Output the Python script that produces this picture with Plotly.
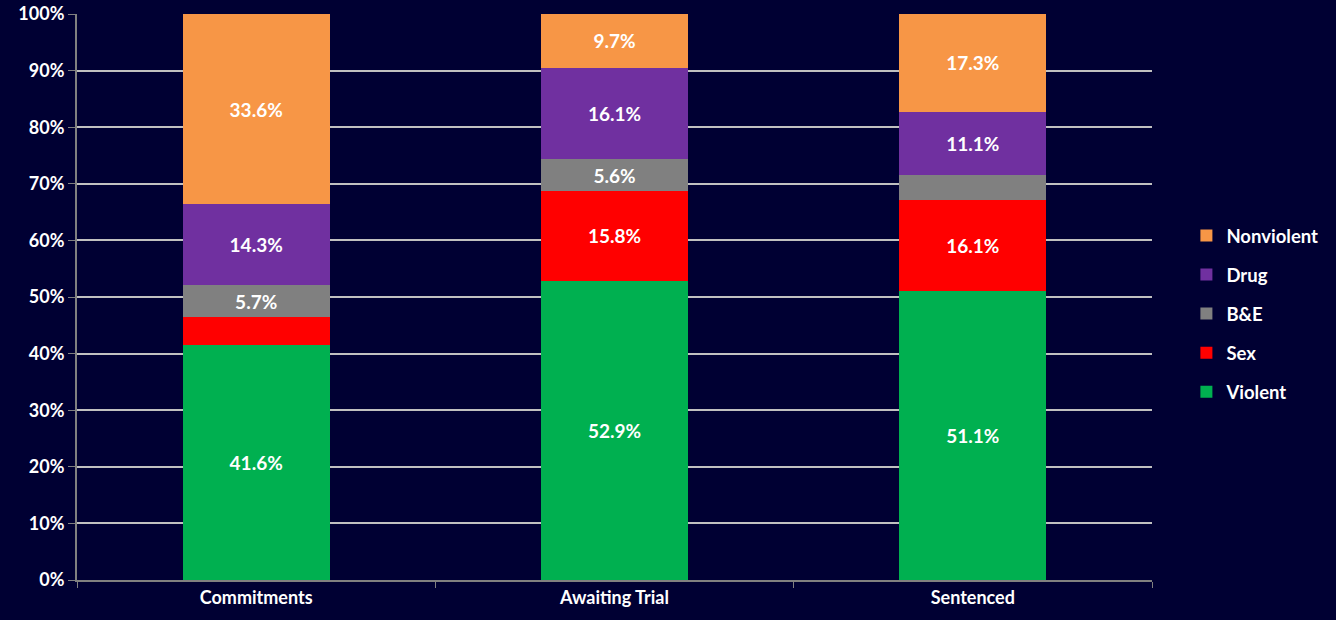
import plotly.graph_objects as go

categories = ["Commitments", "Awaiting Trial", "Sentenced"]
violent = [41.6, 52.9, 51.1]
sex = [4.8, 15.8, 16.1]
bne = [5.7, 5.6, 4.4]
drug = [14.3, 16.1, 11.1]
nonviolent = [33.6, 9.7, 17.3]

series = [
    ("Violent", violent, "#00B050"),
    ("Sex", sex, "#FF0000"),
    ("B&E", bne, "#808080"),
    ("Drug", drug, "#7030A0"),
    ("Nonviolent", nonviolent, "#F79646"),
]

FONT = "Lato, 'Open Sans', sans-serif"

fig = go.Figure()
n = len(series)
for i, (name, vals, color) in enumerate(series):
    labels = [f"{v:.1f}%" if v >= 5 else "" for v in vals]
    fig.add_trace(go.Bar(
        name=name, x=categories, y=vals, marker=dict(color=color, line=dict(width=0)),
        text=labels, textposition="inside", insidetextanchor="middle",
        textfont=dict(color="white", size=19, family=FONT, weight="bold"),
        legendgroup=f"g{i}", legendrank=n - i, hoverinfo="skip",
    ))

fig.update_layout(
    barmode="stack", bargap=0.59,
    width=1336, height=620,
    paper_bgcolor="#000033", plot_bgcolor="#000033",
    margin=dict(l=77, r=184, t=14, b=40, autoexpand=False),
    font=dict(family=FONT, color="white", size=18, weight="bold"),
    showlegend=True,
    legend=dict(x=1.032, xanchor="left", y=0.47, yanchor="middle",
                traceorder="grouped", tracegroupgap=12,
                font=dict(size=18.5, color="white", family=FONT, weight="bold"),
                itemwidth=30, bgcolor="rgba(0,0,0,0)"),
    uniformtext=dict(mode="show", minsize=10),
)
fig.update_yaxes(range=[0, 100], dtick=10, ticksuffix="%", showgrid=True,
                 gridcolor="#C0C0C0", gridwidth=2, showline=True, linecolor="#808080",
                 linewidth=2, ticks="outside", ticklen=7, tickcolor="#808080",
                 tickfont=dict(size=18, color="white", family=FONT, weight="bold"),
                 zeroline=False, automargin=False)
fig.update_xaxes(showline=True, linecolor="#808080", linewidth=2, ticks="outside",
                 tickson="boundaries", ticklen=6, tickcolor="#808080", automargin=False,
                 tickfont=dict(size=18, color="white", family=FONT, weight="bold"))

fig.write_html("out.html")
